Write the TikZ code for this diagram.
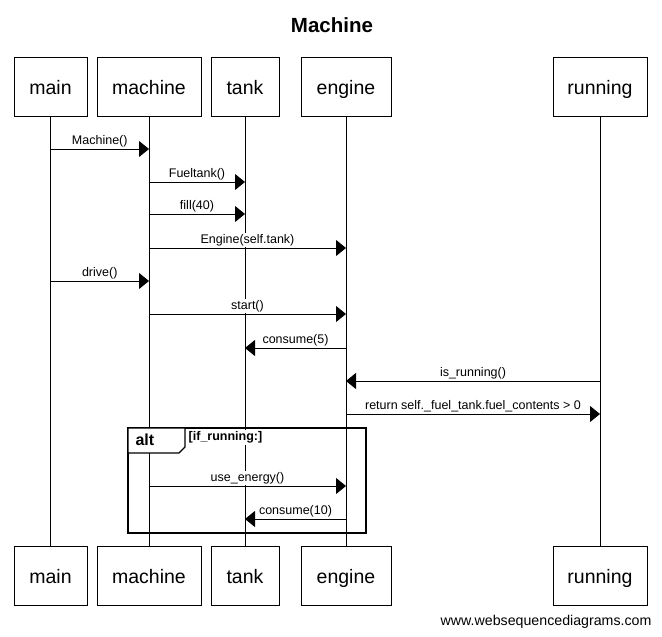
\documentclass[tikz,border=0pt]{standalone}
\usepackage{fontspec}
\setmainfont{Liberation Sans}
\usetikzlibrary{arrows.meta}
\begin{document}
\begin{tikzpicture}[x=1pt,y=-1pt,
 actor/.style={draw, line width=0.9pt, fill=white, minimum height=59pt, inner sep=0pt, text height=18pt, text depth=2pt, font=\fontsize{19.5}{22}\selectfont},
 life/.style={line width=0.8pt},
 msg/.style={line width=0.8pt, -{Triangle[length=10pt,width=16pt]}},
 lbl/.style={font=\fontsize{12.5}{14}\selectfont, fill=white, inner sep=1pt, above=1pt},
]
\useasboundingbox (0,0) rectangle (662,637);
\node[font=\bfseries\fontsize{20.5}{24}\selectfont] (title) at (332,25) {Machine};
% top actors
\node[actor, minimum width=73pt] (tmain) at (50.5,86.5) {main};
\node[actor, minimum width=104pt] (tmachine) at (149,86.5) {machine};
\node[actor, minimum width=68pt] (ttank) at (245,86.5) {tank};
\node[actor, minimum width=90pt] (tengine) at (346,86.5) {engine};
\node[actor, minimum width=94pt] (trunning) at (600,86.5) {running};
% bottom actors
\node[actor, minimum width=73pt] (bmain) at (50.5,575.5) {main};
\node[actor, minimum width=104pt] (bmachine) at (149,575.5) {machine};
\node[actor, minimum width=68pt] (btank) at (245,575.5) {tank};
\node[actor, minimum width=90pt] (bengine) at (346,575.5) {engine};
\node[actor, minimum width=94pt] (brunning) at (600,575.5) {running};
% lifelines
\foreach \a in {main,machine,tank,engine,running}
  \draw[life] (t\a.south) -- (b\a.north);
% alt frame
\draw[line width=1.5pt] (128,428) rectangle (366,533);
\draw[line width=1.2pt, fill=white] (128,428) -- (185,428) -- (185,447) -- (179,453) -- (128,453) -- cycle;
\node[font=\bfseries\fontsize{16}{18}\selectfont, anchor=west] (alt) at (132,440) {alt};
\node[font=\bfseries\fontsize{12.5}{14}\selectfont, anchor=north west, fill=white, inner sep=1.5pt] (cond) at (187,430) {[if\_running:]};
% messages
\draw[msg] (tmain.south |- 0,149) -- (tmachine.south |- 0,149) node[lbl, midway] {Machine()};
\draw[msg] (tmachine.south |- 0,182) -- (ttank.south |- 0,182) node[lbl, midway] {Fueltank()};
\draw[msg] (tmachine.south |- 0,214) -- (ttank.south |- 0,214) node[lbl, midway] {fill(40)};
\draw[msg] (tmachine.south |- 0,248) -- (tengine.south |- 0,248) node[lbl, midway] {Engine(self.tank)};
\draw[msg] (tmain.south |- 0,281) -- (tmachine.south |- 0,281) node[lbl, midway] {drive()};
\draw[msg] (tmachine.south |- 0,314) -- (tengine.south |- 0,314) node[lbl, midway] {start()};
\draw[msg] (tengine.south |- 0,348) -- (ttank.south |- 0,348) node[lbl, midway] {consume(5)};
\draw[msg] (trunning.south |- 0,381) -- (tengine.south |- 0,381) node[lbl, midway] {is\_running()};
\draw[msg] (tengine.south |- 0,414) -- (trunning.south |- 0,414) node[lbl, midway] {return self.\_fuel\_tank.fuel\_contents > 0};
\draw[msg] (tmachine.south |- 0,486) -- (tengine.south |- 0,486) node[lbl, midway] {use\_energy()};
\draw[msg] (tengine.south |- 0,519) -- (ttank.south |- 0,519) node[lbl, midway] {consume(10)};
% footer
\node[font=\fontsize{14.2}{17}\selectfont, anchor=east] (footer) at (655,622) {www.websequencediagrams.com};
\end{tikzpicture}
\end{document}
